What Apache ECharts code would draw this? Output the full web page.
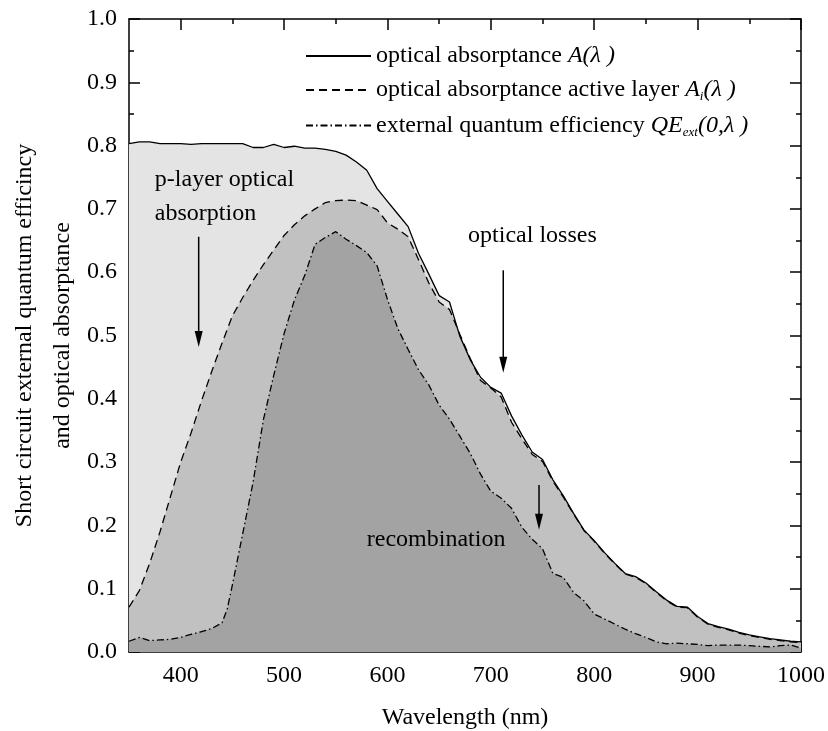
<!DOCTYPE html>
<html><head><meta charset="utf-8">
<script src="https://cdn.jsdelivr.net/npm/echarts@6/dist/echarts.min.js"></script>
<style>html,body{margin:0;padding:0;background:#fff}#c{width:828px;height:731px}</style>
</head><body><div id="c"></div>
<script>
// ---- data ----
const wlA = [350,360,370,380,390,400,410,420,430,440,450,460,470,480,490,500,510,520,530,540,550,560,570,580,590,600,610,620,630,640,650,660,670,680,690,700,710,720,730,740,750,760,770,780,790,800,810,820,830,840,850,860,870,880,890,900,910,920,930,940,950,960,970,980,990,1000];
const absTotal = [0.803,0.806,0.806,0.803,0.803,0.803,0.802,0.803,0.803,0.803,
  0.803,0.803,0.797,0.797,0.802,0.797,0.799,0.796,0.796,0.794,
  0.791,0.785,0.774,0.761,0.732,0.712,0.692,0.672,0.630,0.597,
  0.563,0.553,0.499,0.462,0.434,0.418,0.409,0.373,0.343,0.316,
  0.304,0.272,0.247,0.219,0.193,0.176,0.157,0.140,0.124,0.119,
  0.109,0.095,0.082,0.072,0.071,0.056,0.045,0.040,0.036,0.031,
  0.027,0.024,0.021,0.019,0.017,0.016];
const absActive = [0.071,0.097,0.140,0.190,0.245,0.300,0.346,0.396,0.443,0.488,
  0.531,0.560,0.587,0.612,0.635,0.658,0.675,0.689,0.700,0.710,
  0.713,0.714,0.713,0.706,0.699,0.678,0.668,0.656,0.620,0.583,
  0.553,0.541,0.502,0.464,0.429,0.417,0.403,0.363,0.337,0.312,
  0.301,0.270,0.245,0.218,0.192,0.175,0.156,0.139,0.123,0.118,
  0.108,0.094,0.081,0.071,0.070,0.055,0.044,0.039,0.035,0.030,
  0.026,0.023,0.020,0.018,0.016,0.015];
const wlQE = [350,360,370,380,390,400,410,420,430,440,445,450,460,470,480,490,500,510,520,530,540,550,560,570,580,590,600,610,620,630,640,650,660,670,680,690,700,710,720,730,740,750,760,770,780,790,800,810,820,830,840,850,860,870,880,890,900,910,920,930,940,950,960,970,980,990,1000];
const qeExt = [0.017,0.023,0.018,0.019,0.020,0.023,0.028,0.032,0.037,0.046,0.068,
  0.106,0.187,0.268,0.367,0.437,0.503,0.556,0.595,0.644,0.655,
  0.664,0.652,0.642,0.631,0.610,0.557,0.511,0.478,0.446,0.422,
  0.390,0.368,0.341,0.314,0.281,0.254,0.243,0.227,0.197,0.178,
  0.163,0.124,0.118,0.094,0.081,0.060,0.052,0.044,0.036,0.029,
  0.023,0.016,0.013,0.014,0.013,0.012,0.010,0.011,0.011,0.011,
  0.010,0.009,0.008,0.010,0.011,0.006];
const xMajorTicks = [400,500,600,700,800,900,1000];
const xMinorTicks = [450,550,650,750,850,950];
const seriesNames = ['A', 'Ai', 'QE'];
const legendLabels = {
  'A': '{t|optical absorptance }{i|A(λ )}',
  'Ai': '{t|optical absorptance active layer }{i|A}{sub|i}{i|(λ )}',
  'QE': '{t|external quantum efficiency }{i|QE}{sub|ext}{i|(0,λ )}'
};
// annotations in data units
const notes = [
  {text: 'p-layer optical', x: 375, y: 0.746},
  {text: 'absorption', x: 375, y: 0.692},
  {text: 'optical losses', x: 678, y: 0.658},
  {text: 'recombination', x: 580, y: 0.177}
];
const arrows = [
  {x: 417.4, from: 0.656, to: 0.482},
  {x: 712, from: 0.603, to: 0.441},
  {x: 746.6, from: 0.264, to: 0.193}
];

const FONT = 'Liberation Serif';
const pairs = (xs, ys) => xs.map((x, i) => [x, ys[i]]);
const dA = pairs(wlA, absTotal), dAi = pairs(wlA, absActive), dQ = pairs(wlQE, qeExt);

const chart = echarts.init(document.getElementById('c'));
const axisLine = {show: true, lineStyle: {color: '#000', width: 1.5}};
function xAx(pos, ticks, len, labels, line) {
  return {
    type: 'value', position: pos, min: 350, max: 1000,
    axisLine: line ? axisLine : {show: false},
    axisTick: {show: true, inside: true, length: len, customValues: ticks, lineStyle: {color: '#000', width: 1.5}},
    axisLabel: labels ? {show: true, customValues: ticks, margin: 12, color: '#000', fontFamily: FONT, fontSize: 24, formatter: v => String(v)} : {show: false},
    splitLine: {show: false}
  };
}
function yAx(pos, labels) {
  return {
    type: 'value', position: pos, min: 0, max: 1, interval: 0.1,
    axisLine: axisLine,
    axisTick: {show: true, inside: true, length: 11, lineStyle: {color: '#000', width: 1.5}},
    minorTick: {show: true, splitNumber: 2, length: 5, lineStyle: {color: '#000', width: 1.5}},
    axisLabel: labels ? {show: true, margin: 12, color: '#000', fontFamily: FONT, fontSize: 24, formatter: v => v.toFixed(1)} : {show: false},
    splitLine: {show: false}
  };
}
const xAxes = [xAx('bottom', xMajorTicks, 11, true, true), xAx('bottom', xMinorTicks, 5, false, false),
               xAx('top', xMajorTicks, 11, false, true), xAx('top', xMinorTicks, 5, false, false)];
Object.assign(xAxes[0], {name: 'Wavelength (nm)', nameLocation: 'middle', nameGap: 54,
  nameTextStyle: {color: '#000', fontFamily: FONT, fontSize: 24}});
const yAxes = [yAx('left', true), yAx('right', false)];
Object.assign(yAxes[0], {name: 'Short circuit external quantum efficincy\nand optical absorptance',
  nameLocation: 'middle', nameRotate: 90, nameGap: 47, nameMoveOverlap: false,
  nameTextStyle: {color: '#000', fontFamily: FONT, fontSize: 24, lineHeight: 38}});

function area(name, data, color, z) {
  return {name: name, type: 'line', data: data, symbol: 'none', z: z, silent: true,
    lineStyle: {width: 0, opacity: 0}, areaStyle: {color: color, opacity: 1}};
}
function line(name, data, dash, z) {
  return {name: name, type: 'line', data: data, symbol: 'none', z: z, silent: true,
    lineStyle: {color: '#000', width: 1.3, type: dash}, itemStyle: {color: '#000'}};
}

chart.setOption({
  animation: false,
  grid: {left: 129, top: 19, right: 27, bottom: 79, containLabel: false, outerBoundsMode: 'none'},
  xAxis: xAxes,
  yAxis: yAxes,
  legend: {
    data: seriesNames, orient: 'vertical', left: 305, top: 44, itemWidth: 65, itemHeight: 14,
    itemGap: 8.5, padding: 0, selectedMode: false,
    itemStyle: {opacity: 0},
    formatter: n => legendLabels[n],
    textStyle: {color: '#000', fontFamily: FONT, fontSize: 24,
      rich: {
        t: {fontFamily: FONT, fontSize: 24, color: '#000', lineHeight: 26},
        i: {fontFamily: FONT, fontSize: 24, fontStyle: 'italic', color: '#000', lineHeight: 26},
        sub: {fontFamily: FONT, fontSize: 13, fontStyle: 'italic', color: '#000', lineHeight: 14, padding: [14, 0, 0, 0]}
      }}
  },
  series: [
    area('fillA', dA, '#e4e4e4', 1),
    area('fillAi', dAi, '#c1c1c1', 2),
    area('fillQE', dQ, '#a3a3a3', 3),
    line('A', dA, 'solid', 10),
    line('Ai', dAi, [8, 5], 11),
    line('QE', dQ, [7, 3, 1.5, 3], 12)
  ]
});

// annotations placed from data coordinates
const g = [];
notes.forEach(n => {
  const p = chart.convertToPixel({gridIndex: 0}, [n.x, n.y]);
  g.push({type: 'text', x: p[0], y: p[1], z: 100,
    style: {text: n.text, fill: '#000', font: '24px "' + FONT + '"', textVerticalAlign: 'middle', verticalAlign: 'middle'}});
});
arrows.forEach(a => {
  const p0 = chart.convertToPixel({gridIndex: 0}, [a.x, a.from]);
  const p1 = chart.convertToPixel({gridIndex: 0}, [a.x, a.to]);
  g.push({type: 'line', z: 100, shape: {x1: p0[0], y1: p0[1], x2: p1[0], y2: p1[1] - 6}, style: {stroke: '#000', lineWidth: 1.5}});
  g.push({type: 'polygon', z: 100, shape: {points: [[p1[0] - 4, p1[1] - 16], [p1[0] + 4, p1[1] - 16], [p1[0], p1[1]]]}, style: {fill: '#000'}});
});
chart.setOption({graphic: g});
</script>
</body></html>
